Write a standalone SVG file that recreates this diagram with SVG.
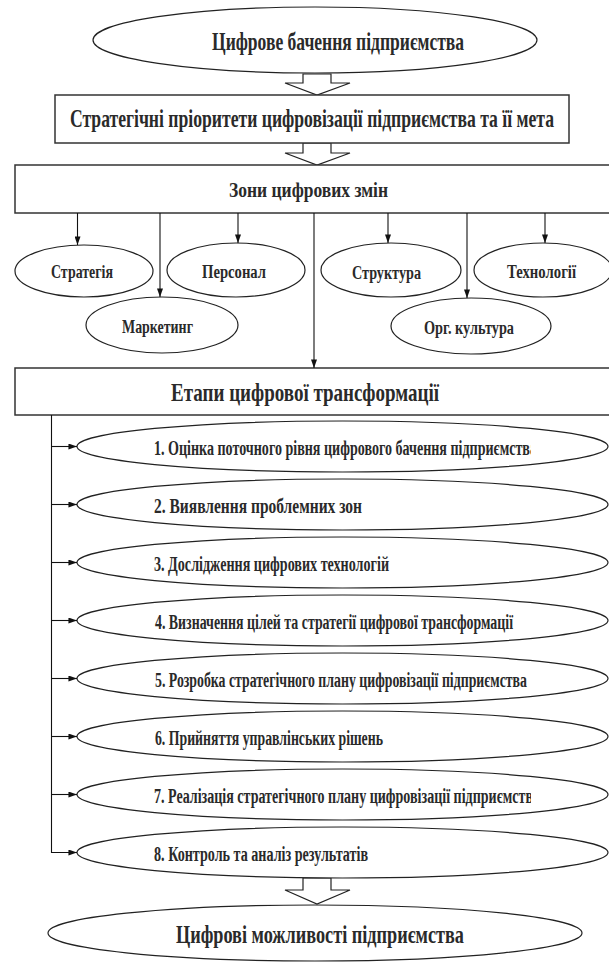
<svg xmlns="http://www.w3.org/2000/svg" width="609" height="962" viewBox="0 0 609 962">
  <defs>
    <marker id="arrow" viewBox="0 0 10 7" refX="10" refY="3.5" markerWidth="9" markerHeight="6" markerUnits="userSpaceOnUse" orient="auto">
      <path d="M0,0 L10,3.5 L0,7 z" fill="#111"/>
    </marker>
    <clipPath id="stageClip">
      <rect x="0" y="0" width="531" height="962"/>
    </clipPath>
  </defs>
  <style>
    .bg { fill: #ffffff; }
    .ell { fill: #ffffff; stroke: #222; stroke-width: 1.2; }
    .box { fill: #ffffff; stroke: #333; stroke-width: 1.5; }
    .hollow { fill: #ffffff; stroke: #222; stroke-width: 1.2; stroke-linejoin: miter; }
    .conn { fill: none; stroke: #111; stroke-width: 1.1; }
    /* condensed bold serif: glyphs are narrowed by the scale(0.68,1) transform */
    .t { font-family: "Liberation Serif", "Times New Roman", serif; font-weight: bold; fill: #2a2a2a; }
    .big { font-size: 25px; }
    .mid { font-size: 22px; }
    .small { font-size: 19px; }
    .stage { font-size: 20px; }
  </style>

  <rect class="bg" x="0" y="0" width="609" height="962"/>

  <!-- vision -->
  <g id="vision">
    <ellipse class="ell" cx="315" cy="40" rx="222" ry="33"/>
    <text class="t big" transform="scale(0.68,1)" x="311.8" y="50" textLength="370.6" lengthAdjust="spacingAndGlyphs">Цифрове бачення підприємства</text>
  </g>

  <!-- block arrows between levels -->
  <g id="blockArrows">
    <polygon class="hollow" points="303,74 331,74 331,83 350,83 317,95 285,83 303,83"/>
    <polygon class="hollow" points="303,143 331,143 331,153 350,153 317,165 285,153 303,153"/>
    <polygon class="hollow" points="303,878 331,878 331,890 350,890 317,904 285,890 303,890"/>
  </g>

  <!-- priorities -->
  <g id="priorities">
    <rect class="box" x="55" y="95" width="514" height="48"/>
    <text class="t big" transform="scale(0.68,1)" x="102.9" y="127" textLength="711.8" lengthAdjust="spacingAndGlyphs">Стратегічні пріоритети цифровізації підприємства та її мета</text>
  </g>

  <!-- zones of change -->
  <g id="zones">
    <rect class="box" x="15" y="165" width="605" height="48"/>
    <text class="t mid" transform="scale(0.68,1)" x="336.8" y="197" textLength="233.8" lengthAdjust="spacingAndGlyphs">Зони цифрових змін</text>
  </g>

  <g id="zone-strategy">
    <ellipse class="ell" cx="84" cy="271" rx="69" ry="26"/>
    <text class="t small" transform="scale(0.68,1)" x="75" y="278" textLength="91.2" lengthAdjust="spacingAndGlyphs">Стратегія</text>
  </g>
  <g id="zone-staff">
    <ellipse class="ell" cx="236" cy="270" rx="69" ry="27"/>
    <text class="t small" transform="scale(0.68,1)" x="297.1" y="278" textLength="94.1" lengthAdjust="spacingAndGlyphs">Персонал</text>
  </g>
  <g id="zone-marketing">
    <ellipse class="ell" cx="162" cy="325" rx="76" ry="28"/>
    <text class="t small" transform="scale(0.68,1)" x="179.4" y="333" textLength="104.4" lengthAdjust="spacingAndGlyphs">Маркетинг</text>
  </g>
  <g id="zone-structure">
    <ellipse class="ell" cx="391" cy="270" rx="70" ry="27"/>
    <text class="t small" transform="scale(0.68,1)" x="517.6" y="279" textLength="101.5" lengthAdjust="spacingAndGlyphs">Структура</text>
  </g>
  <g id="zone-culture">
    <ellipse class="ell" cx="471" cy="326" rx="80" ry="28"/>
    <text class="t small" transform="scale(0.68,1)" x="623.5" y="334" textLength="132.4" lengthAdjust="spacingAndGlyphs">Орг. культура</text>
  </g>
  <g id="zone-tech">
    <ellipse class="ell" cx="543" cy="270" rx="69" ry="27"/>
    <text class="t small" transform="scale(0.68,1)" x="745.6" y="278" textLength="101.5" lengthAdjust="spacingAndGlyphs">Технології</text>
  </g>

  <!-- transformation stages header -->
  <g id="stages">
    <rect class="box" x="15" y="368" width="605" height="47"/>
    <text class="t big" transform="scale(0.68,1)" x="251.5" y="401" textLength="394.1" lengthAdjust="spacingAndGlyphs">Етапи цифрової трансформації</text>
  </g>

  <!-- stage list; long labels are cut at the text frame edge -->
  <g id="stage-1">
    <ellipse class="ell" cx="342.5" cy="446.5" rx="265.5" ry="25.5"/>
    <g clip-path="url(#stageClip)">
      <text class="t stage" transform="scale(0.68,1)" x="226.5" y="455" textLength="563.2" lengthAdjust="spacingAndGlyphs">1. Оцінка поточного рівня цифрового бачення підприємства</text>
    </g>
  </g>
  <g id="stage-2">
    <ellipse class="ell" cx="342.5" cy="504.5" rx="265.5" ry="25.5"/>
    <text class="t stage" transform="scale(0.68,1)" x="226.5" y="513" textLength="305.9" lengthAdjust="spacingAndGlyphs">2. Виявлення проблемних зон</text>
  </g>
  <g id="stage-3">
    <ellipse class="ell" cx="342.5" cy="562.5" rx="265.5" ry="25.5"/>
    <text class="t stage" transform="scale(0.68,1)" x="226.5" y="571" textLength="345.6" lengthAdjust="spacingAndGlyphs">3. Дослідження цифрових технологій</text>
  </g>
  <g id="stage-4">
    <ellipse class="ell" cx="342.5" cy="620.5" rx="265.5" ry="25.5"/>
    <text class="t stage" transform="scale(0.68,1)" x="227.9" y="629" textLength="526.5" lengthAdjust="spacingAndGlyphs">4. Визначення цілей та стратегії цифрової трансформації</text>
  </g>
  <g id="stage-5">
    <ellipse class="ell" cx="342.5" cy="678.5" rx="265.5" ry="25.5"/>
    <text class="t stage" transform="scale(0.68,1)" x="227.9" y="687" textLength="547.1" lengthAdjust="spacingAndGlyphs">5. Розробка стратегічного плану цифровізації підприємства</text>
  </g>
  <g id="stage-6">
    <ellipse class="ell" cx="342.5" cy="736.5" rx="265.5" ry="25.5"/>
    <text class="t stage" transform="scale(0.68,1)" x="227.9" y="745" textLength="335.3" lengthAdjust="spacingAndGlyphs">6. Прийняття управлінських рішень</text>
  </g>
  <g id="stage-7">
    <ellipse class="ell" cx="342.5" cy="794.5" rx="265.5" ry="25.5"/>
    <g clip-path="url(#stageClip)">
      <text class="t stage" transform="scale(0.68,1)" x="226.5" y="803" textLength="567.6" lengthAdjust="spacingAndGlyphs">7. Реалізація стратегічного плану цифровізації підприємства</text>
    </g>
  </g>
  <g id="stage-8">
    <ellipse class="ell" cx="342.5" cy="852.5" rx="265.5" ry="25.5"/>
    <text class="t stage" transform="scale(0.68,1)" x="226.5" y="861" textLength="314.7" lengthAdjust="spacingAndGlyphs">8. Контроль та аналіз результатів</text>
  </g>

  <!-- outcome -->
  <g id="outcome">
    <ellipse class="ell" cx="315" cy="933" rx="267" ry="28"/>
    <text class="t big" transform="scale(0.68,1)" x="258.8" y="943" textLength="423.5" lengthAdjust="spacingAndGlyphs">Цифрові можливості підприємства</text>
  </g>

  <!-- connectors -->
  <g id="connectors">
    <line class="conn" x1="77.5" y1="213" x2="77.5" y2="245" marker-end="url(#arrow)"/>
    <line class="conn" x1="160" y1="213" x2="160" y2="297" marker-end="url(#arrow)"/>
    <line class="conn" x1="238" y1="213" x2="238" y2="243" marker-end="url(#arrow)"/>
    <line class="conn" x1="314" y1="213" x2="314" y2="368" marker-end="url(#arrow)"/>
    <line class="conn" x1="388" y1="213" x2="388" y2="243" marker-end="url(#arrow)"/>
    <line class="conn" x1="467" y1="213" x2="467" y2="298" marker-end="url(#arrow)"/>
    <line class="conn" x1="545" y1="213" x2="545" y2="243" marker-end="url(#arrow)"/>

    <polyline class="conn" points="51.5,415 51.5,852.5 77,852.5" marker-end="url(#arrow)"/>
    <line class="conn" x1="51.5" y1="446.5" x2="77" y2="446.5" marker-end="url(#arrow)"/>
    <line class="conn" x1="51.5" y1="504.5" x2="77" y2="504.5" marker-end="url(#arrow)"/>
    <line class="conn" x1="51.5" y1="562.5" x2="77" y2="562.5" marker-end="url(#arrow)"/>
    <line class="conn" x1="51.5" y1="620.5" x2="77" y2="620.5" marker-end="url(#arrow)"/>
    <line class="conn" x1="51.5" y1="678.5" x2="77" y2="678.5" marker-end="url(#arrow)"/>
    <line class="conn" x1="51.5" y1="736.5" x2="77" y2="736.5" marker-end="url(#arrow)"/>
    <line class="conn" x1="51.5" y1="794.5" x2="77" y2="794.5" marker-end="url(#arrow)"/>
  </g>
</svg>
